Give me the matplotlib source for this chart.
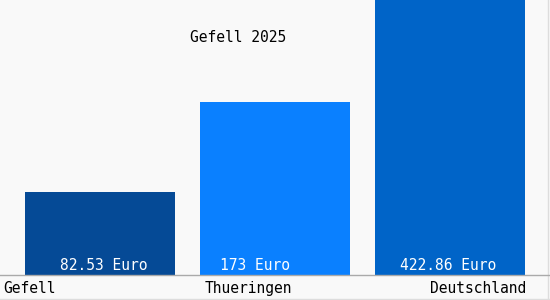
import matplotlib
matplotlib.use("Agg")
import matplotlib.pyplot as plt

title = "Gefell 2025"
regions = ["Gefell", "Thueringen", "Deutschland"]
values = [82.53, 173, 422.86]
value_labels = ["82.53 Euro", "173 Euro", "422.86 Euro"]
bar_colors = ["#054a96", "#0a80ff", "#0064c8"]

plt.rcParams["font.family"] = ["DejaVu Sans Mono"]

fig = plt.figure(figsize=(5.5, 3.0), dpi=100, facecolor="#f9f9f9")
ax = fig.add_axes([0, 0, 1, 1])
ax.set_facecolor("#f9f9f9")

# one data unit = one pixel; bars sit on y=0, 25 px left below for labels
centers = [100, 275, 450]
ax.bar(centers, values, width=150, color=bar_colors, zorder=2)
ax.set_xlim(0, 550)
ax.set_ylim(-25, 275)
ax.axis("off")

ax.axhline(0, color="#aaaaaa", lw=1, zorder=3)
ax.axhline(-23.5, color="#dddddd", lw=1)
ax.axvline(547.5, color="#dddddd", lw=1)

value_x = [104, 255, 448]
for x, lab in zip(value_x, value_labels):
    ax.text(x, 2, lab, color="white", ha="center", va="bottom",
            fontsize=10.5, zorder=4)

label_x = [3, 205, 430]
for x, name in zip(label_x, regions):
    ax.text(x, -6, name, color="black", ha="left", va="top", fontsize=10.5)

ax.text(238, 237, title, color="black", ha="center", va="center", fontsize=10.5)

fig.savefig("out.png", dpi=100, facecolor=fig.get_facecolor())
